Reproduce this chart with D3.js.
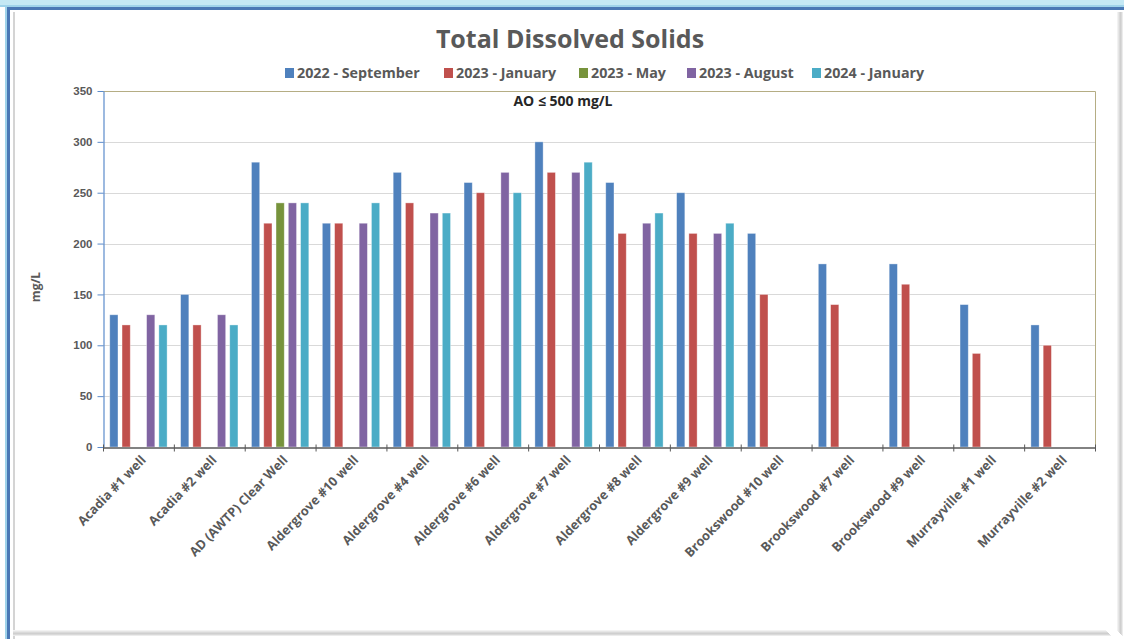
<!DOCTYPE html>
<html>
<head>
<meta charset="utf-8">
<script src="https://cdn.jsdelivr.net/npm/d3@7"></script>
<style>
  html, body { margin: 0; padding: 0; background: #fff; }
  svg { display: block; }
  text { font-family: "Open Sans", sans-serif; }
</style>
</head>
<body>
<svg id="chart" width="1124" height="639"></svg>
<script>
const categories = ["Acadia #1 well", "Acadia #2 well", "AD (AWTP) Clear Well", "Aldergrove #10 well",
  "Aldergrove #4 well", "Aldergrove #6 well", "Aldergrove #7 well", "Aldergrove #8 well",
  "Aldergrove #9 well", "Brookswood #10 well", "Brookswood #7 well", "Brookswood #9 well",
  "Murrayville #1 well", "Murrayville #2 well"];
const seriesNames = ["2022 - September", "2023 - January", "2023 - May", "2023 - August", "2024 - January"];
const seriesColors = ["#4F81BD", "#C0504D", "#77933C", "#8064A2", "#4BACC6"];
const sep2022 = [130, 150, 280, 220, 270, 260, 300, 260, 250, 210, 180, 180, 140, 120];
const jan2023 = [120, 120, 220, 220, 240, 250, 270, 210, 210, 150, 140, 160, 92, 100];
const may2023 = [null, null, 240, null, null, null, null, null, null, null, null, null, null, null];
const aug2023 = [130, 130, 240, 220, 230, 270, 270, 220, 210, null, null, null, null, null];
const jan2024 = [120, 120, 240, 240, 230, 250, 280, 230, 220, null, null, null, null, null];
const seriesValues = [sep2022, jan2023, may2023, aug2023, jan2024];
const yTicks = [0, 50, 100, 150, 200, 250, 300, 350];
const titleText = "Total Dissolved Solids";
const yLabel = "mg/L";
const noteText = "AO \u2264 500 mg/L";

const svg = d3.select("#chart");
const W = 1124, H = 639;
const textColor = "#595959";

// frame
svg.append("rect").attr("x", 0).attr("y", 0).attr("width", W).attr("height", H).attr("fill", "#fff");
svg.append("rect").attr("x", 0).attr("y", 0).attr("width", W).attr("height", 5).attr("fill", "#C4E8F4");
svg.append("rect").attr("x", 0).attr("y", 5).attr("width", W).attr("height", 2).attr("fill", "#9FD3EA");
svg.append("rect").attr("x", 7).attr("y", 7).attr("width", W - 7).attr("height", 3).attr("fill", "#4A78B5");
svg.append("rect").attr("x", 5).attr("y", 7).attr("width", 2).attr("height", H - 7).attr("fill", "#9FD3EA");
svg.append("rect").attr("x", 7).attr("y", 7).attr("width", 3).attr("height", H - 7).attr("fill", "#4A78B5");
svg.append("rect").attr("x", 13).attr("y", 12).attr("width", 2).attr("height", H - 12).attr("fill", "#D4D4D4");
// bottom and right shadow
const shadeCols = ["#f2f2f2", "#e6e6e6", "#d9d9d9", "#cfcfcf", "#d9d9d9", "#ececec"];
shadeCols.forEach((c, i) => {
  svg.append("rect").attr("x", 13).attr("y", 630 + i).attr("width", 1106 - 13 + i).attr("height", 1).attr("fill", c);
  svg.append("rect").attr("x", 1117 + i).attr("y", 12).attr("width", 1).attr("height", 619 + i).attr("fill", c);
});

// plot area
const m = { left: 103, right: 1095, top: 91, bottom: 447 };
const x0 = d3.scaleBand().domain(categories).range([m.left, m.right]).paddingInner(0).paddingOuter(0);
const x1 = d3.scaleBand().domain(d3.range(seriesNames.length)).range([0, x0.bandwidth()])
  .paddingInner(0.33).paddingOuter(0.55);
const y = d3.scaleLinear().domain([0, 350]).range([m.bottom, m.top]);

// gridlines
svg.append("g").selectAll("line").data(yTicks.filter(t => t > 0 && t < 350)).join("line")
  .attr("x1", m.left).attr("x2", m.right)
  .attr("y1", d => Math.round(y(d)) + 0.5).attr("y2", d => Math.round(y(d)) + 0.5)
  .attr("stroke", "#D9D9D9").attr("stroke-width", 1);

// plot border top/right (olive)
svg.append("path")
  .attr("d", `M${m.left},${m.top + 0.5}H${m.right + 0.5}V${m.bottom}`)
  .attr("fill", "none").attr("stroke", "#B5AD84").attr("stroke-width", 1);

// bars
const bars = [];
categories.forEach((c, ci) => {
  seriesValues.forEach((arr, si) => {
    if (arr[ci] != null) bars.push({ c, si, v: arr[ci] });
  });
});
svg.append("g").selectAll("rect").data(bars).join("rect")
  .attr("x", d => x0(d.c) + x1(d.si))
  .attr("y", d => y(d.v))
  .attr("width", x1.bandwidth())
  .attr("height", d => y(0) - y(d.v))
  .attr("fill", d => seriesColors[d.si])
  .attr("stroke", "rgba(255,255,255,0.45)").attr("stroke-width", 0.8);

// y axis
const yAxis = d3.axisLeft(y).tickValues(yTicks).tickSize(6).tickSizeOuter(0);
const gy = svg.append("g").attr("transform", `translate(${m.left + 0.5},0)`).call(yAxis);
gy.select(".domain").attr("stroke", "#5B8BCB").attr("stroke-width", 1.2);
gy.selectAll(".tick line").attr("stroke", "#5B8BCB");
gy.selectAll(".tick text").attr("fill", textColor).attr("font-size", 11.5).attr("font-weight", "bold")
  .attr("x", -11).style("font-family", "'Liberation Sans', 'Open Sans', sans-serif");

// x axis
const xAxis = d3.axisBottom(x0).tickSize(0).tickSizeOuter(0);
const gx = svg.append("g").attr("transform", `translate(0,${m.bottom + 0.5})`).call(xAxis);
gx.select(".domain").attr("stroke", "#595959").attr("stroke-width", 1.3);
gx.selectAll(".tick text")
  .attr("fill", textColor).attr("font-size", 12.8).attr("font-weight", "bold")
  .attr("text-anchor", "end")
  .attr("transform", "translate(5,10) rotate(-46)")
  .attr("x", 0).attr("y", 0).attr("dy", "0.35em");
// category boundary ticks
const bounds = categories.map(c => x0(c)).concat([m.right]);
gx.append("g").selectAll("line").data(bounds).join("line")
  .attr("x1", d => d + 0.5).attr("x2", d => d + 0.5).attr("y1", -3).attr("y2", 4)
  .attr("stroke", "#595959").attr("stroke-width", 1);

// title
svg.append("text").attr("x", 570).attr("y", 48).attr("text-anchor", "middle")
  .attr("font-size", 25).attr("font-weight", "bold").attr("fill", textColor).text(titleText);

// legend
const legendX = [285, 444, 579, 687, 812];
const lg = svg.append("g").selectAll("g").data(seriesNames).join("g")
  .attr("transform", (d, i) => `translate(${legendX[i]},73)`);
lg.append("rect").attr("x", 0).attr("y", -5).attr("width", 9).attr("height", 10)
  .attr("fill", (d, i) => seriesColors[i]);
lg.append("text").attr("x", 12).attr("y", 0).attr("dy", "0.35em")
  .attr("font-size", 14.3).attr("font-weight", "bold").attr("fill", textColor).text(d => d);

// note
svg.append("text").attr("x", 563).attr("y", 106).attr("text-anchor", "middle")
  .attr("font-size", 14).attr("font-weight", "bold").attr("fill", "#262626").text(noteText);

// y label
svg.append("text").attr("transform", "translate(40,287) rotate(-90)").attr("text-anchor", "middle")
  .attr("font-size", 12).attr("font-weight", "bold").attr("fill", textColor).text(yLabel);
</script>
</body>
</html>
